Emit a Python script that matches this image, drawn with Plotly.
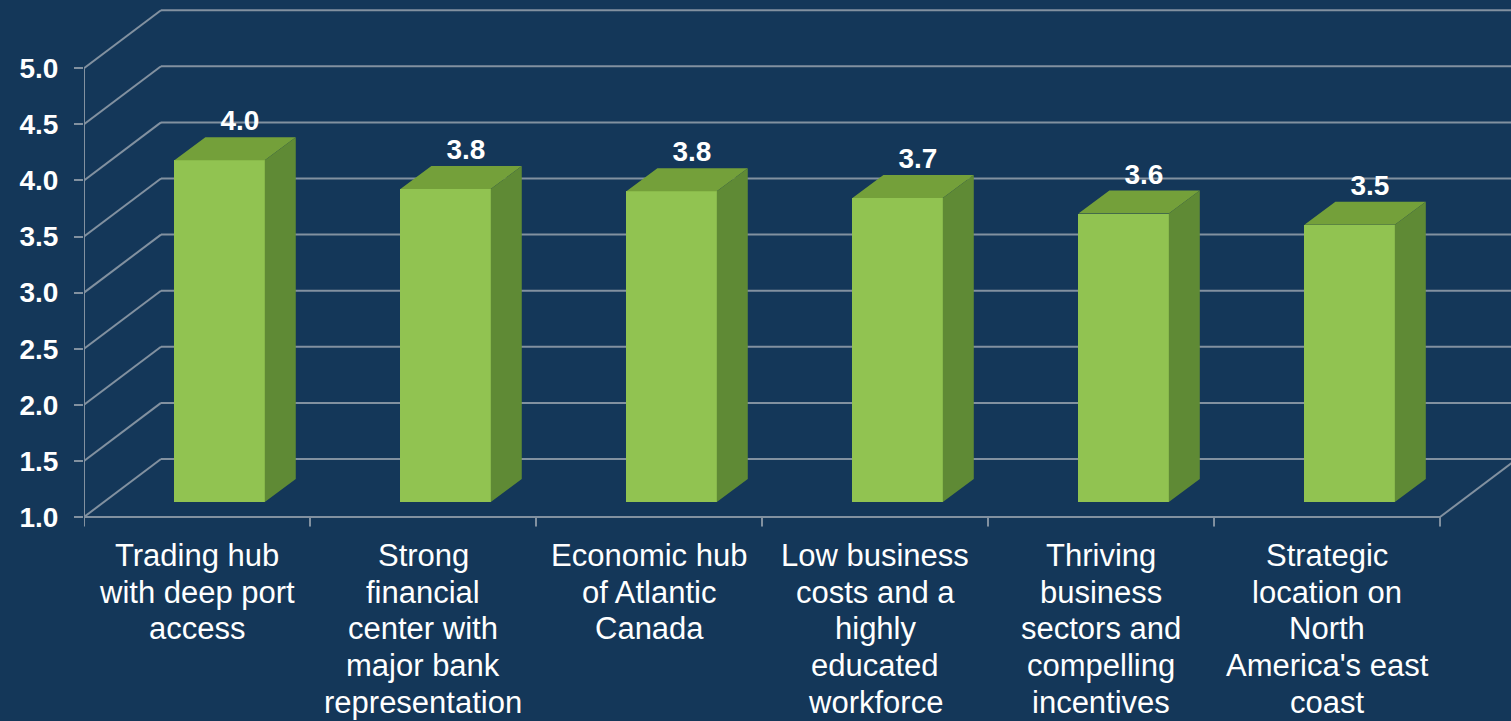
import plotly.graph_objects as go

# ---------------- data ----------------
categories = [
    "Trading hub<br>with deep port<br>access",
    "Strong<br>financial<br>center with<br>major bank<br>representation",
    "Economic hub<br>of Atlantic<br>Canada",
    "Low business<br>costs and a<br>highly<br>educated<br>workforce",
    "Thriving<br>business<br>sectors and<br>compelling<br>incentives",
    "Strategic<br>location on<br>North<br>America's east<br>coast",
]
values = [4.045, 3.79, 3.77, 3.71, 3.57, 3.47]
y_ticks = [1.0, 1.5, 2.0, 2.5, 3.0, 3.5, 4.0, 4.5, 5.0]
y_tick_text = [f"{t:.1f}" for t in y_ticks]
value_text = ["4.0", "3.8", "3.8", "3.7", "3.6", "3.5"]

# ---------------- style / geometry ----------------
BG = "#143759"
GRID = "#8291A0"
FRONT = "#91C351"
TOP = "#74A03A"
SIDE = "#5F8A35"
FONT = "Liberation Sans, Arial, sans-serif"

W, H = 1511, 721
M_L, M_B = 84, 193
DX, DY = 0.3407, 0.517          # full depth of the floor/walls (axis units)
BAR_SHIFT_X, BAR_SHIFT_Y = 0.10, 0.134   # position of bar front face in depth
BAR_DX, BAR_DY = 0.137, 0.205   # bar depth
BAR_W = 0.40
Y0 = y_ticks[0]
Y1 = y_ticks[-1]
n = len(values)
xs = list(range(n))

CAT_SIZE = 31
LINE_GAP = 36.9        # px between label lines
FIRST_BASELINE = 566   # px from top

fig = go.Figure()

# front faces
fig.add_trace(go.Bar(
    x=[x + BAR_SHIFT_X for x in xs],
    y=[v - Y0 for v in values],
    base=Y0 + BAR_SHIFT_Y,
    width=BAR_W,
    marker=dict(color=FRONT, line=dict(width=0)),
    hoverinfo="skip",
    showlegend=False,
))

# top and side faces
top_x, top_y, side_x, side_y = [], [], [], []
for x, v in zip(xs, values):
    xl = x + BAR_SHIFT_X - BAR_W / 2
    xr = x + BAR_SHIFT_X + BAR_W / 2
    yt = v + BAR_SHIFT_Y
    yb = Y0 + BAR_SHIFT_Y
    top_x += [xl, xr, xr + BAR_DX, xl + BAR_DX, xl, None]
    top_y += [yt, yt, yt + BAR_DY, yt + BAR_DY, yt, None]
    side_x += [xr, xr + BAR_DX, xr + BAR_DX, xr, xr, None]
    side_y += [yb, yb + BAR_DY, yt + BAR_DY, yt, yb, None]

fig.add_trace(go.Scatter(x=top_x, y=top_y, mode="lines", fill="toself",
                         fillcolor=TOP, line=dict(width=0, color=TOP),
                         hoverinfo="skip", showlegend=False))
fig.add_trace(go.Scatter(x=side_x, y=side_y, mode="lines", fill="toself",
                         fillcolor=SIDE, line=dict(width=0, color=SIDE),
                         hoverinfo="skip", showlegend=False))

# value labels
fig.add_trace(go.Scatter(
    x=[x + BAR_SHIFT_X + 0.09 for x in xs],
    y=[v + BAR_SHIFT_Y + BAR_DY for v in values],
    mode="text",
    text=value_text,
    textposition="top center",
    textfont=dict(family=FONT, size=28, color="white", weight="bold"),
    hoverinfo="skip", showlegend=False, cliponaxis=False,
))

# walls, floor and gridlines as shapes below traces
shapes = []
line = dict(color=GRID, width=2)
for t in y_ticks:
    shapes.append(dict(type="line", layer="below", xref="x", yref="y",
                       x0=-0.5, y0=t, x1=-0.5 + DX, y1=t + DY, line=line))
    shapes.append(dict(type="line", layer="below", xref="x", yref="y",
                       x0=-0.5 + DX, y0=t + DY, x1=n + 1, y1=t + DY, line=line))
shapes.append(dict(type="line", layer="below", x0=-0.5, y0=Y0, x1=-0.5, y1=Y1, line=line))
shapes.append(dict(type="line", layer="below", x0=-0.5, y0=Y0, x1=n - 0.5, y1=Y0, line=line))
shapes.append(dict(type="line", layer="below", x0=n - 0.5, y0=Y0, x1=n - 0.5 + DX, y1=Y0 + DY, line=line))
for k in range(n + 1):
    shapes.append(dict(type="line", layer="below", x0=k - 0.5, y0=Y0, x1=k - 0.5, y1=Y0 - 0.085, line=line))

# category labels: one annotation per line (tight line spacing as in the reference)
plot_bottom_px = H - M_B
annotations = []
for x, cat in zip(xs, categories):
    for k, txt in enumerate(cat.split("<br>")):
        center_px = FIRST_BASELINE + k * LINE_GAP - 0.35 * CAT_SIZE
        annotations.append(dict(
            xref="x", yref="paper", x=x, y=0, yshift=-(center_px - plot_bottom_px),
            text=txt, showarrow=False, xanchor="center", yanchor="middle",
            font=dict(family=FONT, size=CAT_SIZE, color="white"),
        ))

fig.update_layout(
    width=W, height=H,
    margin=dict(l=M_L, r=0, t=0, b=M_B),
    paper_bgcolor=BG, plot_bgcolor=BG,
    shapes=shapes,
    annotations=annotations,
    bargap=0,
    xaxis=dict(range=[-0.5, 5.814], showticklabels=False,
               ticks="", showgrid=False, zeroline=False, showline=False,
               fixedrange=True),
    yaxis=dict(range=[0.902, 5.608], tickmode="array", tickvals=y_ticks, ticktext=y_tick_text,
               ticks="outside", ticklen=9, tickwidth=2, tickcolor=GRID,
               showgrid=False, zeroline=False, showline=False,
               tickfont=dict(family=FONT, size=28, color="white", weight="bold"),
               ticklabelstandoff=10, fixedrange=True),
)

fig.write_html(
    "out.html",
    config={"displayModeBar": False},
    post_script="document.body.style.margin='0';document.body.style.overflow='hidden';",
)
